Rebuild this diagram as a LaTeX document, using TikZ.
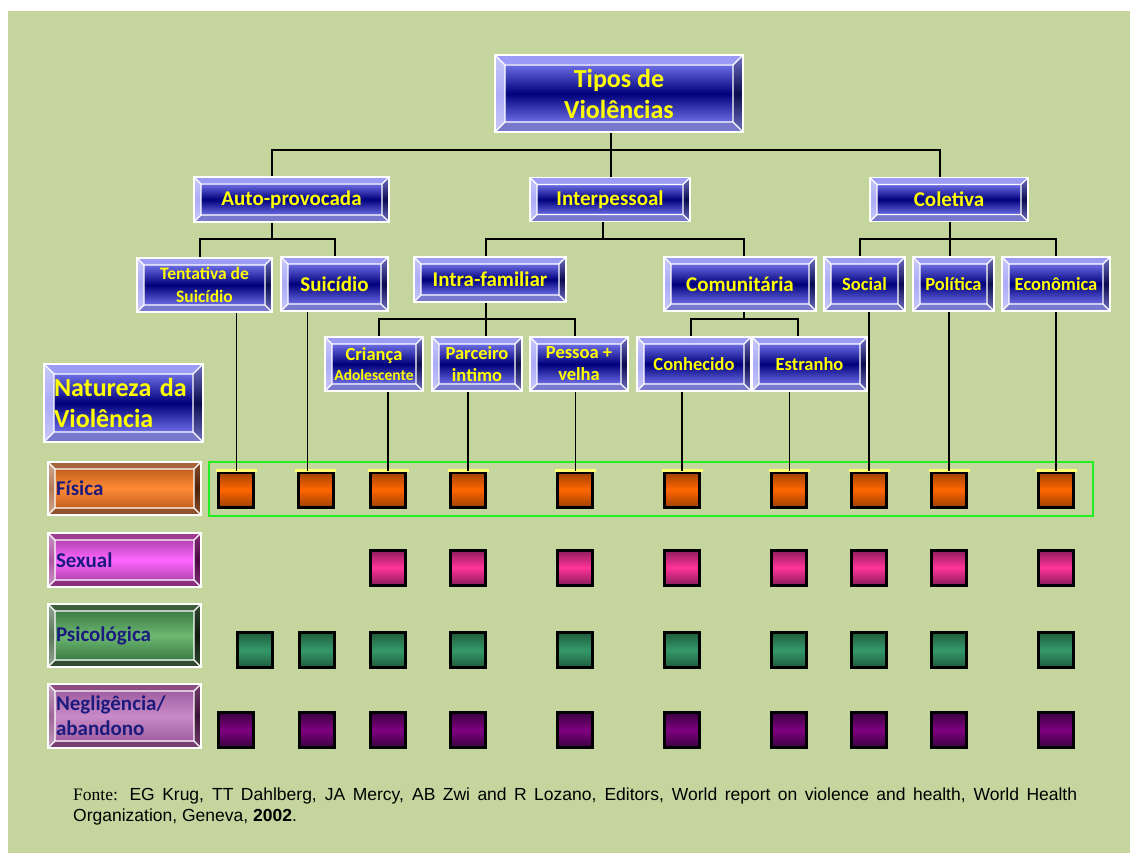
\documentclass[tikz,border=0pt]{standalone}
\usepackage{fontspec}
\setmainfont{Carlito}
\newfontfamily\srcfont{Liberation Sans}
\newfontfamily\srcserif{Liberation Serif}
\usetikzlibrary{calc}

\definecolor{bgolive}{HTML}{C4D69E}
\definecolor{tyel}{HTML}{FFFF00}
\definecolor{labnavy}{HTML}{1B1B7E}
\definecolor{fisgreen}{HTML}{22EE22}
\definecolor{fisyel}{HTML}{FFFF70}
% bevel boxes: face edge / face middle / bevel light / bevel dark
\definecolor{bfE}{HTML}{6C6CE4}\definecolor{bfM}{HTML}{00007C}
\definecolor{bbL}{HTML}{9C9CF6}\definecolor{bbD}{HTML}{0A0A50}
\definecolor{fisE}{HTML}{C0601E}\definecolor{fisM}{HTML}{FF8A35}
\definecolor{fisL}{HTML}{A8643A}\definecolor{fisD}{HTML}{4A2008}
\definecolor{sexE}{HTML}{B444B4}\definecolor{sexM}{HTML}{FF66FF}
\definecolor{sexL}{HTML}{9E3C92}\definecolor{sexD}{HTML}{4A0844}
\definecolor{psiE}{HTML}{3C7A46}\definecolor{psiM}{HTML}{6CB870}
\definecolor{psiL}{HTML}{3E5E3E}\definecolor{psiD}{HTML}{0E180E}
\definecolor{negE}{HTML}{A05EA0}\definecolor{negM}{HTML}{C98AC9}
\definecolor{negL}{HTML}{8C4C84}\definecolor{negD}{HTML}{3A1434}
% squares
\definecolor{sqO1}{HTML}{A04000}\definecolor{sqO2}{HTML}{FF6600}
\definecolor{sqP1}{HTML}{8C1C5C}\definecolor{sqP2}{HTML}{FF3399}
\definecolor{sqG1}{HTML}{1F5C3C}\definecolor{sqG2}{HTML}{34996A}
\definecolor{sqV1}{HTML}{3A0040}\definecolor{sqV2}{HTML}{800080}

\newcommand\fbig{\fontsize{26}{31}\selectfont\bfseries}
\newcommand\fmid{\fontsize{21}{25}\selectfont\bfseries}
\newcommand\fsml{\fontsize{18.5}{22}\selectfont\bfseries}
\def\bevw{7pt}

\newcommand\bevelpaint[4]{%
  \path (path picture bounding box.south west) coordinate (bvA)
        (path picture bounding box.north east) coordinate (bvC)
        ($(bvA)+(\bevw,\bevw)$) coordinate (bva)
        ($(bvC)+(-\bevw,-\bevw)$) coordinate (bvc);
  \fill[#3] (bvA |- bvC) -- (bvC) -- (bvc) -- (bva |- bvc) -- cycle;
  \fill[#3!75!#4] (bvA) -- (bvC |- bvA) -- (bvc |- bva) -- (bva) -- cycle;
  \shade[top color=#3!55!white, bottom color=#3!55!white, middle color=#3!85!white]
    (bvA) -- (bva) -- (bva |- bvc) -- (bvA |- bvC) -- cycle;
  \shade[top color=#3!70!#4, bottom color=#3!70!#4, middle color=#4]
    (bvC |- bvA) -- (bvC) -- (bvc) -- (bvc |- bva) -- cycle;
  \shade[top color=#1, bottom color=#1, middle color=#2] (bva) rectangle (bvc);
  \draw[white, line width=1.2pt] (bva) rectangle (bvc)
    (bvA) -- (bva) (bvC) -- (bvc) (bvA |- bvC) -- (bva |- bvc) (bvC |- bvA) -- (bvc |- bva);
}

\begin{document}
\begin{tikzpicture}[x=1pt, y=-1pt,
    bw/.code={\def\bevw{#1}},
    bev/.style n args={4}{draw=white, line width=1.2pt, inner sep=0pt,
      path picture={\bevelpaint{#1}{#2}{#3}{#4}}},
    sz/.style 2 args={minimum width=#1pt, minimum height=#2pt},
    lvl/.style={bev={bfE}{bfM}{bbL}{bbD}, text=tyel, align=center},
    nat/.style={bev={#1E}{#1M}{#1L}{#1D}, text=labnavy, align=left, text width=137pt, font=\fmid},
    sq/.style={draw=black, line width=3pt, minimum size=35pt, inner sep=0pt,
      top color=#11, bottom color=#11, middle color=#12},
    tree/.style={line width=2pt},
    fisframe/.style={draw=fisgreen, line width=1.5pt}]

    \useasboundingbox (0,0) rectangle (1130,853);
    \fill[bgolive] (8,11) rectangle (1130,853);

    % arvore
    \node[lvl, sz={248}{77}, bw=10pt, font=\fbig] (tipos) at (619,93.5) {Tipos de\\Violências};
    \node[lvl, sz={195}{45}, font=\fmid] (auto) at (291.5,199.5) {Auto-provocada};
    \node[lvl, sz={160}{44}, font=\fmid] (inter) at (610,199.5) {Interpessoal};
    \node[lvl, sz={158}{44}, font=\fmid] (colet) at (949,199.5) {Coletiva};
    \node[lvl, sz={135}{54}, font=\fontsize{17.5}{23}\selectfont\bfseries] (tent) at (204.5,285) {Tentativa de\\Suicídio};
    \node[lvl, sz={107}{54}, font=\fmid] (suic) at (334.5,284) {Suicídio};
    \node[lvl, sz={152}{45}, font=\fmid] (intra) at (490,279.5) {Intra-familiar};
    \node[lvl, sz={152}{54}, font=\fmid] (comun) at (740,284) {Comunitária};
    \node[lvl, sz={81}{54}, font=\fsml] (soc) at (864.5,284) {Social};
    \node[lvl, sz={81}{54}, font=\fsml] (pol) at (953.5,284) {Política};
    \node[lvl, sz={108}{54}, font=\fsml] (econ) at (1056,284) {Econômica};
    \node[lvl, sz={98}{54}, font=\fsml] (crian) at (374,364) {Criança\\[-2pt]{\fontsize{15.5}{19}\selectfont Adolescente}};
    \node[lvl, sz={90}{54}, font=\fsml] (parc) at (477,364) {Parceiro\\intimo};
    \node[lvl, sz={98}{54}, font=\fsml] (pess) at (579,364) {Pessoa +\\velha};
    \node[lvl, sz={114}{54}, font=\fsml] (conh) at (694,364) {Conhecido};
    \node[lvl, sz={115}{54}, font=\fsml] (estr) at (809.5,364) {Estranho};

    \coordinate (j0) at (611,150);
    \coordinate (ja) at (272,239);
    \coordinate (ji) at (603,239);
    \coordinate (jc) at (950,239);
    \coordinate (jf) at (486,319);
    \coordinate (jm) at (744,319);
    \draw[tree] (j0 |- tipos.south) -- (j0);
    \draw[tree] ([xshift=-19.5pt]auto.north) |- (j0) -| ([xshift=-9pt]colet.north);
    \draw[tree] (j0) -- (j0 |- inter.north);
    \draw[tree] (ja |- auto.south) -- (ja);
    \draw[tree] ([xshift=-4.5pt]tent.north) |- (ja) -| (suic.north);
    \draw[tree] (ji |- inter.south) -- (ji);
    \draw[tree] ([xshift=-4pt]intra.north) |- (ji) -| ([xshift=4pt]comun.north);
    \draw[tree] (jc |- colet.south) -- (jc);
    \draw[tree] ([xshift=-4.5pt]soc.north) |- (jc) -| (econ.north);
    \draw[tree] (jc) -- (jc |- pol.north);
    \draw[tree] (jf |- intra.south) -- (jf);
    \draw[tree] ([xshift=5pt]crian.north) |- (jf) -| ([xshift=-4pt]pess.north);
    \draw[tree] (jf) -- (jf |- parc.north);
    \draw[tree] (jm |- comun.south) -- (jm);
    \draw[tree] ([xshift=-3pt]conh.north) |- (jm) -| ([xshift=-11.5pt]estr.north);

    % natureza
    \node[lvl, sz={159}{78}, bw=10pt, font=\fbig, align=left, text width=139pt] (natur) at (123.5,403) {Natureza da\\Violência};
    \node[nat=fis, sz={153}{53}] (fis) at (124.5,488.5) {Física};
    \node[nat=sex, sz={153}{54}] (sex) at (124.5,560) {Sexual};
    \node[nat=psi, sz={153}{63}] (psi) at (124.5,635.5) {Psicológica};
    \node[nat=neg, sz={153}{64}] (neg) at (124.5,716) {Negligência/\\abandono};

    \draw[fisframe] (209,462) rectangle (1093,516);
    \foreach \k/\x in {1/236,2/315.5,3/388,4/468,5/575,6/682,7/789,8/869,9/949,10/1056} {
      \node[sq=sqO] (f\k) at (\x,489.5) {};
      \draw[fisyel, line width=3pt, shorten <=-1.5pt, shorten >=-1.5pt] (f\k.north west) -- (f\k.north east);
    }
    \foreach \k/\x in {3/388,4/468,5/575,6/682,7/789,8/869,9/949,10/1056}
      \node[sq=sqP] (s\k) at (\x,567.5) {};
    \foreach \k/\x in {1/254.5,2/317,3/388,4/468,5/575,6/682,7/789,8/869,9/949,10/1056}
      \node[sq=sqG] (p\k) at (\x,650) {};
    \foreach \k/\x in {1/236,2/317,3/388,4/468,5/575,6/682,7/789,8/869,9/949,10/1056}
      \node[sq=sqV] (n\k) at (\x,730) {};

    \foreach \b/\k/\s/\w in {tent/1/0/1, suic/2/-8.5/1, crian/3/0/2.5, parc/4/0/2.5, pess/5/0/1,
        conh/6/0/2.5, estr/7/0/1, soc/8/0/2.5, pol/9/0/2.5, econ/10/0/2.5}
      \draw[line width=\w pt] ($(f\k.north)+(\s pt,0pt)$) -- ($(f\k.north |- \b.south)+(\s pt,0pt)$);

    \node[anchor=north west, inner sep=0pt, text width=1004pt, align=justify,
      font=\srcfont\fontsize{17.5}{21}\selectfont] (fonte) at (73,788)
      {{\srcserif Fonte:} EG Krug, TT Dahlberg, JA Mercy, AB Zwi and R Lozano, Editors, World report on violence and health, World Health\linebreak Organization, Geneva, \textbf{2002}.};
\end{tikzpicture}
\end{document}
